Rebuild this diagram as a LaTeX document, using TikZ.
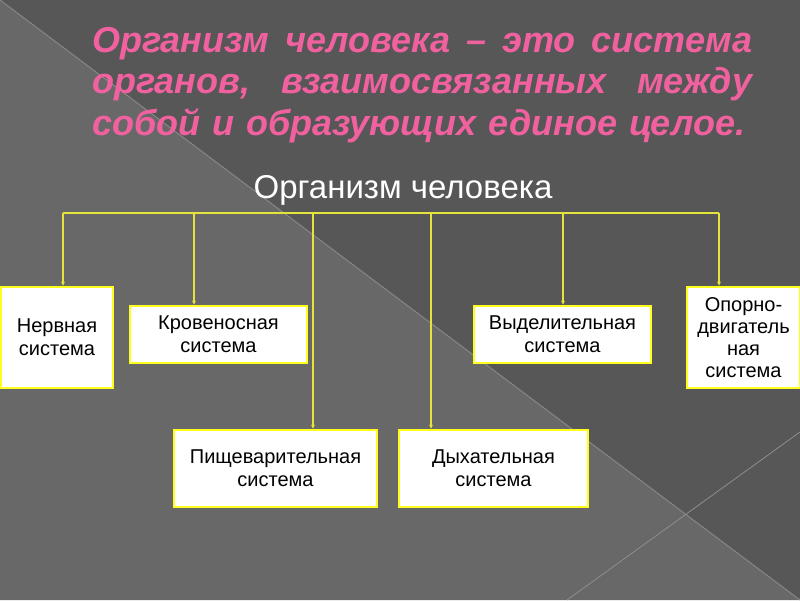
\documentclass[tikz,border=0pt]{standalone}
\usepackage{fontspec}
\setmainfont{Liberation Sans}
\usepackage{tikz}
\usetikzlibrary{arrows.meta,positioning}
\definecolor{bgdark}{HTML}{575757}
\definecolor{bglight}{HTML}{686868}
\definecolor{seam}{HTML}{8E8E8E}
\definecolor{pinktitle}{HTML}{F2619F}
\definecolor{wire}{HTML}{E4E43A}
\definecolor{frame}{HTML}{FFFF1E}
\tikzset{
  sysbox/.style={draw=frame,line width=2.8pt,fill=white,align=center,inner sep=2pt,font=\fontsize{20}{23}\selectfont},
  link/.style={-{Stealth[length=4pt,width=4pt]},draw=wire,line width=1.2pt}
}

\begin{document}
\begin{tikzpicture}[x=1pt,y=-1pt]
  \useasboundingbox (0,0) rectangle (800,600);
  % background
  \fill[bgdark] (0,0) rectangle (800,600);
  \fill[bglight] (0,0) -- (800,600) -- (0,600) -- cycle;
  \draw[seam,line width=0.8pt] (0,0) -- (800,600);
  \draw[seam,line width=0.8pt] (800,432) -- (567,600);

  % heading
  \node[anchor=north west,text width=660pt,align=left,inner sep=0pt,text=pinktitle,
        font=\fontsize{36}{41.5}\selectfont\bfseries\itshape] (head) at (92,27)
    {\leavevmode\hbox to 660pt{Организм\hfill человека\hfill –\hfill это\hfill система}\\
     \leavevmode\hbox to 660pt{органов,\hfill взаимосвязанных\hfill между}\\
     собой и образующих единое целое.};
  \node[text=white,font=\fontsize{33}{38}\selectfont] (root) at (403,190) {Организм человека};

  % systems
  \node[sysbox,minimum width=112pt,minimum height=101pt] (nerv) at (57,337.5) {Нервная\\система};
  \node[sysbox,minimum width=177pt,minimum height=57pt] (krov) at (218.5,334.5) {Кровеносная\\система};
  \node[sysbox,minimum width=203pt,minimum height=77pt] (pishch) at (275.5,468.5) {Пищеварительная\\система};
  \node[sysbox,minimum width=189pt,minimum height=77pt] (dykh) at (493.5,468.5) {Дыхательная\\система};
  \node[sysbox,minimum width=177pt,minimum height=57pt] (vydel) at (562.5,334.5) {Выделительная\\система};
  \node[sysbox,minimum width=113pt,minimum height=101pt,font=\fontsize{20}{22}\selectfont] (opor) at (743.5,337.5) {Опорно-\\двигатель\\ная\\система};

  % bus and drops
  \coordinate (busL) at (63,213);
  \coordinate (busR) at (719,213);
  \draw[wire,line width=1.2pt] (busL) -- (busR);
  \coordinate (d1) at (63,213);
  \coordinate (d2) at (194,213);
  \coordinate (d3) at (313,213);
  \coordinate (d4) at (431,213);
  \coordinate (d5) at (563,213);
  \coordinate (d6) at (719,213);
  \draw[link] (d1) -- (d1 |- nerv.north);
  \draw[link] (d2) -- (d2 |- krov.north);
  \draw[link] (d3) -- (d3 |- pishch.north);
  \draw[link] (d4) -- (d4 |- dykh.north);
  \draw[link] (d5) -- (d5 |- vydel.north);
  \draw[link] (d6) -- (d6 |- opor.north);
\end{tikzpicture}
\end{document}
